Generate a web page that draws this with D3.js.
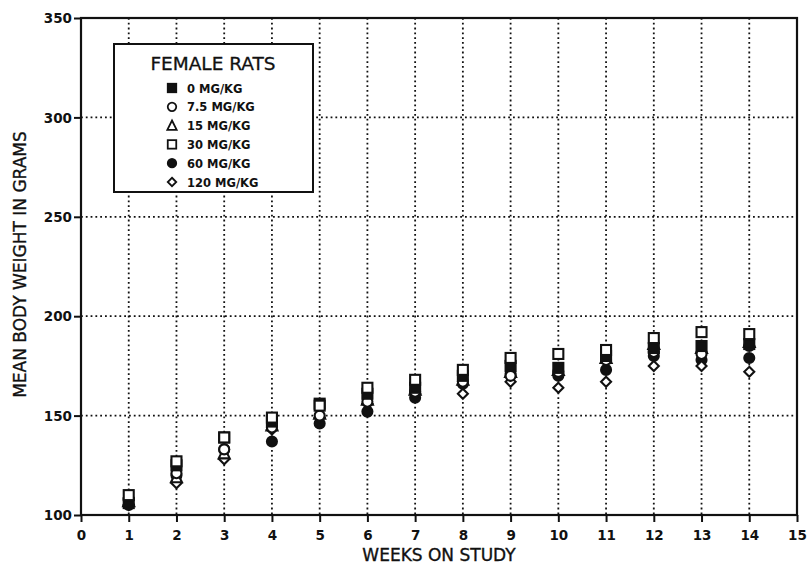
<!DOCTYPE html>
<html>
<head>
<meta charset="utf-8">
<script src="https://cdn.jsdelivr.net/npm/d3@7"></script>
<style>
  body { margin: 0; background: #fff; }
  svg { display: block; font-family: "DejaVu Sans", sans-serif; }
  .tick-label { font-size: 13.5px; font-weight: bold; fill: #111; }
  .axis-title { font-size: 17px; fill: #111; stroke: #111; stroke-width: 0.35px; }
  .legend-title { font-size: 18.5px; fill: #111; stroke: #111; stroke-width: 0.3px; }
  .legend-label { font-size: 11.5px; font-weight: bold; fill: #111; }
</style>
</head>
<body>
<svg id="chart" width="807" height="567" viewBox="0 0 807 567"></svg>
<script>
const weeks = [1, 2, 3, 4, 5, 6, 7, 8, 9, 10, 11, 12, 13, 14];
const xTicks = [0, 1, 2, 3, 4, 5, 6, 7, 8, 9, 10, 11, 12, 13, 14, 15];
const yTicks = [100, 150, 200, 250, 300, 350];

const dose0 = [106, 125, 139, 147, 156, 161, 164, 170, 175, 174, 180, 184, 185, 186];
const dose7_5 = [108, 121, 133, 144, 150, 157, 162, 167, 170, 172, 178, 182, 181, 185];
const dose15 = [107, 119, 131, 145, 151, 158, 163, 168, 172, 173, 179, 186, 184, 187];
const dose30 = [110, 127, 139, 149, 155, 164, 168, 173, 179, 181, 183, 189, 192, 191];
const dose60 = [105, 120, 133, 137, 146, 152, 159, 166, 171, 170, 173, 180, 178, 179];
const dose120 = [105, 116, 128, 143, 149, 156, 161, 161, 167, 164, 167, 175, 175, 172];

const seriesNames = ["0 MG/KG", "7.5 MG/KG", "15 MG/KG", "30 MG/KG", "60 MG/KG", "120 MG/KG"];
const seriesValues = [dose0, dose7_5, dose15, dose30, dose60, dose120];
const seriesShapes = ["filledSquare", "openCircle", "openTriangle", "openSquare", "filledCircle", "openDiamond"];

const MARGIN = { top: 18, right: 10, bottom: 52, left: 81 };
const innerWidth = 797 - MARGIN.left;
const innerHeight = 515 - MARGIN.top;

const svg = d3.select("#chart");
const g = svg.append("g").attr("transform", `translate(${MARGIN.left},${MARGIN.top})`);

const x = d3.scaleLinear().domain([0, 15]).range([0, innerWidth]);
const y = d3.scaleLinear().domain([100, 350]).range([innerHeight, 0]);

// dotted grid
g.selectAll(".vgrid")
  .data(weeks)
  .join("line")
  .attr("x1", (d) => x(d))
  .attr("x2", (d) => x(d))
  .attr("y1", 0)
  .attr("y2", innerHeight)
  .attr("stroke", "#111")
  .attr("stroke-width", 1.8)
  .attr("stroke-dasharray", "1.8,3");

g.selectAll(".hgrid")
  .data(yTicks.filter((d) => d > 100 && d < 350))
  .join("line")
  .attr("x1", 0)
  .attr("x2", innerWidth)
  .attr("y1", (d) => y(d))
  .attr("y2", (d) => y(d))
  .attr("stroke", "#111")
  .attr("stroke-width", 1.8)
  .attr("stroke-dasharray", "1.8,3");

// axes
const xAxis = g.append("g")
  .attr("transform", `translate(0,${innerHeight})`)
  .call(d3.axisBottom(x).tickValues(xTicks).tickSize(7).tickFormat(d3.format("d")));
const yAxis = g.append("g")
  .call(d3.axisLeft(y).tickValues(yTicks).tickSize(7).tickFormat(d3.format("d")));

[xAxis, yAxis].forEach((axis) => {
  axis.select(".domain").remove();
  axis.attr("font-size", null).attr("font-family", null);
  axis.selectAll(".tick line").attr("stroke", "#111").attr("stroke-width", 2);
  axis.selectAll(".tick text").attr("class", "tick-label").attr("fill", "#111");
});
xAxis.selectAll(".tick text").attr("y", 25).attr("dy", null);
yAxis.selectAll(".tick text").attr("x", -9).attr("dy", "0.35em");

// frame
g.append("rect")
  .attr("x", 0)
  .attr("y", 0)
  .attr("width", innerWidth)
  .attr("height", innerHeight)
  .attr("fill", "none")
  .attr("stroke", "#111")
  .attr("stroke-width", 2.2);

// axis titles
svg.append("text")
  .attr("class", "axis-title")
  .attr("x", x(7.5) + MARGIN.left)
  .attr("y", 561)
  .attr("text-anchor", "middle")
  .text("WEEKS ON STUDY");

svg.append("text")
  .attr("class", "axis-title")
  .attr("transform", `translate(26,${MARGIN.top + y(226)}) rotate(-90)`)
  .attr("text-anchor", "middle")
  .text("MEAN BODY WEIGHT IN GRAMS");

// marker drawing
const drawMarker = (sel, shape) => {
  const s = 5;
  if (shape === "filledSquare" || shape === "openSquare") {
    sel.append("rect")
      .attr("x", -s).attr("y", -s).attr("width", 2 * s).attr("height", 2 * s)
      .attr("fill", shape === "filledSquare" ? "#111" : "#fff")
      .attr("stroke", "#111").attr("stroke-width", 2.1);
  } else if (shape === "openCircle" || shape === "filledCircle") {
    sel.append("circle")
      .attr("r", s)
      .attr("fill", shape === "filledCircle" ? "#111" : "#fff")
      .attr("stroke", "#111").attr("stroke-width", 2.1);
  } else if (shape === "openTriangle") {
    sel.append("path")
      .attr("d", `M0,${-s - 1}L${s + 0.5},${s}L${-s - 0.5},${s}Z`)
      .attr("fill", "#fff").attr("stroke", "#111").attr("stroke-width", 2.1);
  } else if (shape === "openDiamond") {
    sel.append("path")
      .attr("d", `M0,${-s}L${s},0L0,${s}L${-s},0Z`)
      .attr("fill", "#fff").attr("stroke", "#111").attr("stroke-width", 2.1);
  }
};

// data points, drawn so the open 30 mg/kg square sits on top like the scan
const drawOrder = [4, 5, 2, 1, 0, 3];
drawOrder.forEach((si) => {
  const pts = g.append("g").selectAll("g")
    .data(weeks.map((w, i) => ({ week: w, value: seriesValues[si][i] })))
    .join("g")
    .attr("transform", (d) => `translate(${x(d.week)},${y(d.value)})`);
  pts.each(function () {
    drawMarker(d3.select(this), seriesShapes[si]);
  });
});

// legend
const legend = svg.append("g").attr("transform", "translate(114,44)");
legend.append("rect")
  .attr("width", 199)
  .attr("height", 148)
  .attr("fill", "#fff")
  .attr("stroke", "#111")
  .attr("stroke-width", 2);
legend.append("text")
  .attr("class", "legend-title")
  .attr("x", 99)
  .attr("y", 26)
  .attr("text-anchor", "middle")
  .text("FEMALE RATS");

const rows = legend.selectAll(".legend-row")
  .data(seriesNames)
  .join("g")
  .attr("transform", (d, i) => `translate(58,${44 + i * 18.8})`);
rows.each(function (d, i) {
  const row = d3.select(this);
  drawMarker(row.append("g").attr("transform", "scale(0.85)"), seriesShapes[i]);
  row.append("text")
    .attr("class", "legend-label")
    .attr("x", 15)
    .attr("y", 4.5)
    .text(d);
});
</script>
</body>
</html>
